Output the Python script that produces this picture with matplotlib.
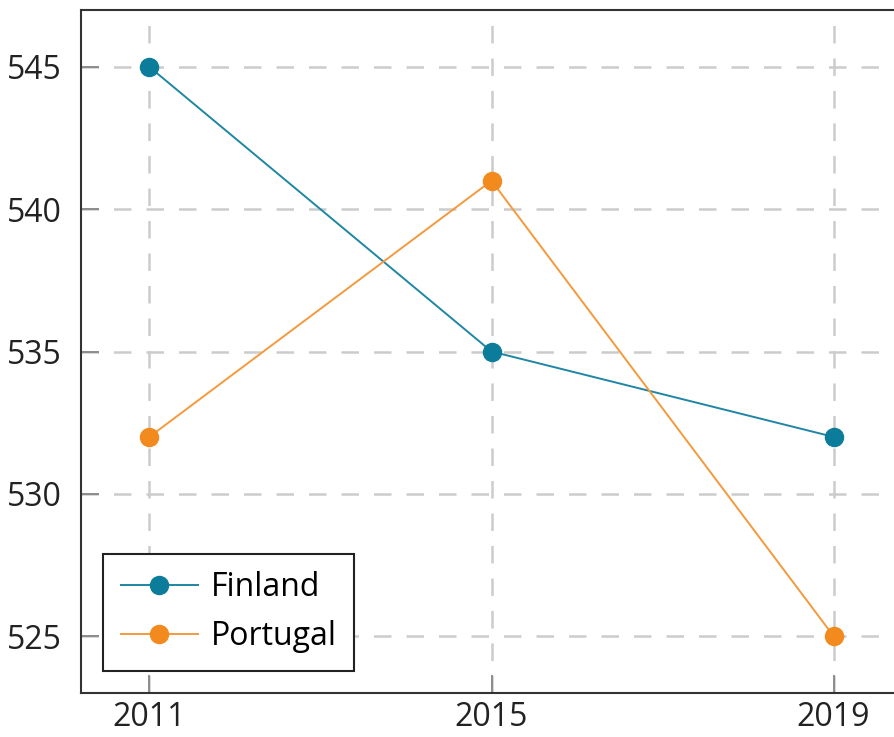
import matplotlib.pyplot as plt

years = [2011, 2015, 2019]
finland = [545, 535, 532]
portugal = [532, 541, 525]

plt.rcParams['font.family'] = ['Open Sans', 'DejaVu Sans']

fig = plt.figure(figsize=(8.94, 7.37), dpi=100)
ax = fig.add_axes([81 / 894, 44 / 737, 821 / 894, 683 / 737])

ax.plot(years, finland, color='#1f86a3', lw=1.4, marker='o', ms=13,
        mfc='#0b7d9b', mec='#0b7d9b', label='Finland', zorder=3)
ax.plot(years, portugal, color='#f39a3c', lw=1.4, marker='o', ms=13,
        mfc='#f28a1e', mec='#f28a1e', label='Portugal', zorder=3)

ax.set_xlim(2010.2, 2019.8)
ax.set_ylim(523, 547)
ax.set_xticks(years)
ax.set_yticks([525, 530, 535, 540, 545])

ax.grid(True, color='#cccccc', ls=(0, (7, 6)), lw=1.8)
ax.set_axisbelow(True)
for s in ax.spines.values():
    s.set_color('#333333')
    s.set_linewidth(1.5)
ax.tick_params(direction='in', length=13, width=1.3, color='#888888',
               labelsize=23, labelcolor='#222222')
ax.tick_params(axis='y', pad=14)
ax.tick_params(axis='x', pad=6)

leg = ax.legend(loc='lower left', fontsize=23, fancybox=False, framealpha=1,
                edgecolor='#222222', handlelength=2.4, handletextpad=0.4,
                borderaxespad=0.7, borderpad=0.55, labelspacing=0.5)
leg.get_frame().set_linewidth(1.5)

fig.savefig('out.png', dpi=100)
